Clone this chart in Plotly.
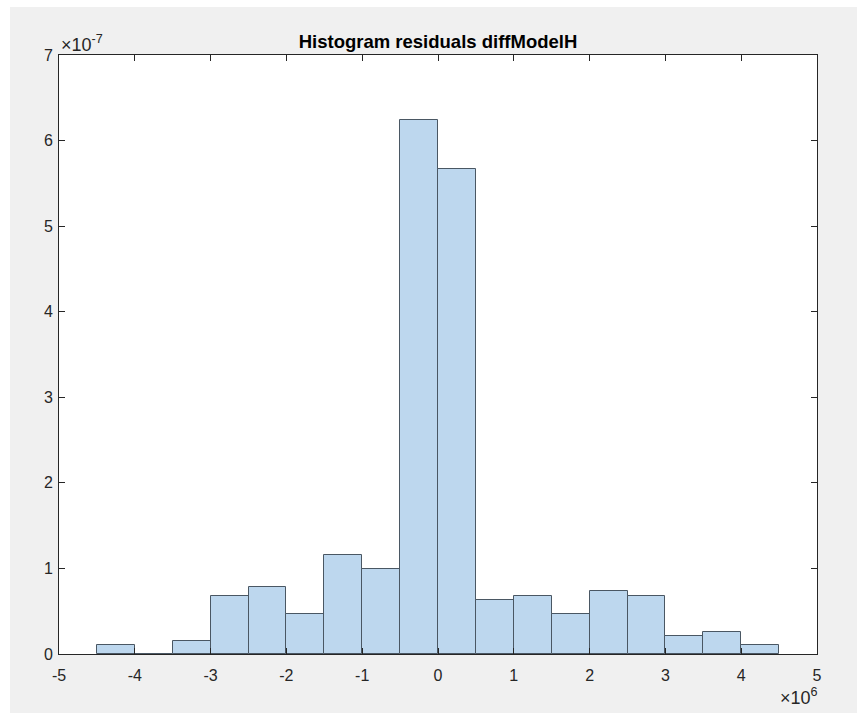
import plotly.graph_objects as go

# Data
bin_edges = [-4.5e6, -4.0e6, -3.5e6, -3.0e6, -2.5e6, -2.0e6, -1.5e6, -1.0e6, -0.5e6, 0.0,
             0.5e6, 1.0e6, 1.5e6, 2.0e6, 2.5e6, 3.0e6, 3.5e6, 4.0e6, 4.5e6]
density_e7 = [0.105, 0.0, 0.157, 0.681, 0.785, 0.471, 1.152, 0.995, 6.24, 5.67,
              0.628, 0.681, 0.471, 0.733, 0.681, 0.209, 0.262, 0.105]
y_scale = 1e-7
x_scale = 1e6
x_tick_labels = ["-5", "-4", "-3", "-2", "-1", "0", "1", "2", "3", "4", "5"]
y_tick_labels = ["0", "1", "2", "3", "4", "5", "6", "7"]

centers = [(a + b) / 2 for a, b in zip(bin_edges[:-1], bin_edges[1:])]
widths = [b - a for a, b in zip(bin_edges[:-1], bin_edges[1:])]
density = [v * y_scale for v in density_e7]

W, H = 859, 713
L, R, T, B = 59, 42, 55, 59
pw, ph = W - L - R, H - T - B

FONT = "Liberation Sans, Arial, Helvetica, sans-serif"
AX = "#262626"

fig = go.Figure()
fig.add_trace(go.Bar(
    x=centers, y=density, width=widths,
    marker=dict(color="#bdd7ee", line=dict(color="#4a5763", width=1)),
    showlegend=False, hoverinfo="skip",
))

xt = [int(s) * x_scale for s in x_tick_labels]
yt = [int(s) * y_scale for s in y_tick_labels]

fig.update_layout(
    width=W, height=H,
    margin=dict(l=L, r=R, t=T, b=B),
    paper_bgcolor="#f0f0f0",
    plot_bgcolor="white",
    font=dict(family=FONT, size=16, color=AX),
    bargap=0,
    title=dict(text="<b>Histogram residuals diffModelH</b>", x=(L + pw / 2) / W, xanchor="center",
               y=1 - 41.5 / H, yanchor="middle", yref="container",
               font=dict(family=FONT, size=18.5, color="black")),
    xaxis=dict(range=[-5 * x_scale, 5 * x_scale], tickvals=xt, ticktext=x_tick_labels,
               showgrid=False, zeroline=False, showline=True, linecolor=AX, linewidth=1,
               mirror="ticks", ticks="inside", ticklen=6, tickcolor=AX, tickwidth=1,
               tickfont=dict(size=16), ticklabelstandoff=7),
    yaxis=dict(range=[0, 7 * y_scale], tickvals=yt, ticktext=y_tick_labels,
               showgrid=False, zeroline=False, showline=True, linecolor=AX, linewidth=1,
               mirror="ticks", ticks="inside", ticklen=6, tickcolor=AX, tickwidth=1,
               tickfont=dict(size=16), ticklabelstandoff=2),
)

def px_to_paper_x(px):
    return (px - L) / pw

def px_to_paper_y(py):
    return (H - B - py) / ph

# thin white strips around the grey figure area (as in the screenshot)
fig.add_shape(type="rect", xref="paper", yref="paper",
              x0=px_to_paper_x(0), x1=px_to_paper_x(W), y0=px_to_paper_y(7), y1=px_to_paper_y(0),
              fillcolor="white", line=dict(width=0), layer="above")
fig.add_shape(type="rect", xref="paper", yref="paper",
              x0=px_to_paper_x(0), x1=px_to_paper_x(10), y0=px_to_paper_y(H), y1=px_to_paper_y(0),
              fillcolor="white", line=dict(width=0), layer="above")
fig.add_shape(type="rect", xref="paper", yref="paper",
              x0=px_to_paper_x(857), x1=px_to_paper_x(W), y0=px_to_paper_y(H), y1=px_to_paper_y(0),
              fillcolor="white", line=dict(width=0), layer="above")

# exponent labels
fig.add_annotation(text="×10<sup>-7</sup>", xref="paper", yref="paper", x=px_to_paper_x(59),
                   y=px_to_paper_y(43), xanchor="left", yanchor="middle", showarrow=False,
                   font=dict(family=FONT, size=18, color=AX))
fig.add_annotation(text="×10<sup>6</sup>", xref="paper", yref="paper", x=px_to_paper_x(820),
                   y=px_to_paper_y(696), xanchor="right", yanchor="middle", showarrow=False,
                   font=dict(family=FONT, size=18, color=AX))

fig.write_html("out.html")
